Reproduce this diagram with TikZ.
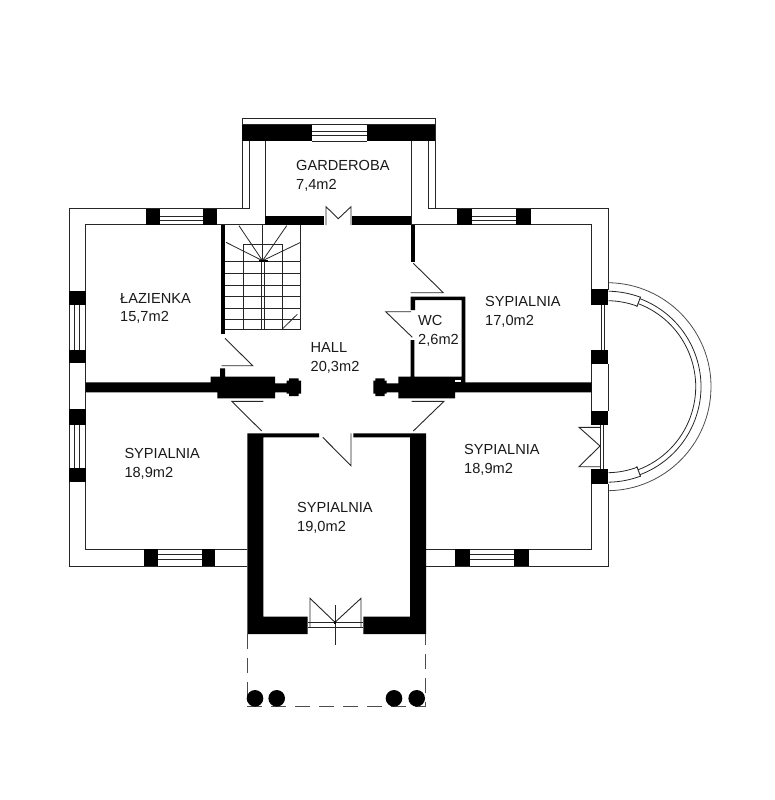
\documentclass[tikz,border=0pt]{standalone}
\usepackage{fontspec}
\setmainfont{Liberation Sans}
\tikzset{
    wall/.style={line width=1pt,draw=black!85},
    thinline/.style={line width=0.8pt,draw=black!85},
    dooropen/.style={line width=0.9pt,draw=black!85},
    blackwall/.style={fill=black},
    dashline/.style={line width=1.1pt,draw=black!70,dash pattern=on 15pt off 9pt},
    room/.style={align=left,anchor=west,inner sep=0pt,font=\fontsize{14.6}{18.8}\selectfont,text=black!90},
}
\begin{document}
\begin{tikzpicture}[x=1pt,y=-1pt]
\useasboundingbox (0,0) rectangle (774,800);
% outer and inner wall lines
\draw[wall] (247.3,566.3)--(69,566.3)--(69,208.6)--(249,208.6)--(249,141);
\draw[wall] (242.3,208.6)--(242.3,118)--(435.3,118)--(435.3,208.6);
\draw[wall] (428.3,141)--(428.3,208.6)--(608.3,208.6)--(608.3,290);
\draw[wall] (608.3,364)--(608.3,411);
\draw[wall] (608.3,484)--(608.3,566.3)--(426,566.3);
\draw[wall] (247.3,549.2)--(85.7,549.2)--(85.7,224.7)--(265,224.7)--(265,141);
\draw[wall] (411.3,141)--(411.3,224.7)--(591.7,224.7)--(591.7,290);
\draw[wall] (591.7,364)--(591.7,411);
\draw[wall] (591.7,484)--(591.7,549.2)--(426,549.2);
% windows
\foreach \i in {216.2,220.7} {
\draw[thinline] (160,\i)--(203,\i);
\draw[thinline] (472,\i)--(516,\i);
}
\foreach \i in {131.7,135.2} {
\draw[thinline] (312,\i)--(367,\i);
}
\foreach \i in {554.5,559.5} {
\draw[thinline] (158,\i)--(202,\i);
\draw[thinline] (470,\i)--(514,\i);
}
\foreach \i in {74.3,79.3} {
\draw[thinline] (\i,305)--(\i,350);
\draw[thinline] (\i,425)--(\i,468);
}
\foreach \i in {601,604} {
\draw[thinline] (\i,304)--(\i,350);
}
\foreach \i in {600,603.5} {
\draw[thinline] (\i,425)--(\i,469);
}
% piers
\foreach \xa/\ya/\xb/\yb in {145.7/208.6/160/224.7,203/208.6/217/224.7,457.3/208.6/472.3/224.7,516/208.6/531/224.7,
    144/549.2/158.3/566.3,201.7/549.2/215.3/566.3,455/549.2/470/566.3,514/549.2/529.3/566.3,
    69/290.7/85.7/305,69/350/85.7/363,69/409.3/85.7/425,69/468.3/85.7/482.3,
    591.3/289.3/608.3/304.7,591.3/350/608.3/364,591.3/410.7/608.3/425,591.3/469/608.3/484} {
\fill[blackwall] (\xa,\ya) rectangle (\xb,\yb);
}
% black walls
\draw[wall,fill=white] (242.3,118) rectangle (435.3,124.7);
\fill[blackwall] (242.3,124.7) rectangle (312,141.3);
\fill[blackwall] (367,124.7) rectangle (435.3,141.3);
\draw[thinline] (312,124.7)--(367,124.7);
\draw[thinline] (312,141.3)--(367,141.3);
\fill[blackwall] (265,216) rectangle (324,225);
\fill[blackwall] (352.3,216) rectangle (411.3,225);
\fill[blackwall] (220.7,225) rectangle (225.2,334);
\fill[blackwall] (410.7,225) rectangle (415,261.7);
% hall wall with columns
\fill[blackwall] (85.7,382.3)--(210.7,382.3)--(210.7,376.7)--(220,376.7)--(220,368.3)--(225,368.3)--(225,376.7)--(275,376.7)--(275,383.3)--(286.7,383.3)--(286.7,380.5)--(289,380.5)--(289,378.3)--(298.7,378.3)--(298.7,380.5)--(301,380.5)--(301,393.7)--(298.7,393.7)--(298.7,396)--(289,396)--(289,393.7)--(286.7,393.7)--(286.7,392.3)--(275,392.3)--(275,398.3)--(217.3,398.3)--(217.3,392.3)--(85.7,392.3)--cycle;
\fill[blackwall] (591.7,382.3)--(465.3,382.3)--(465.3,296.7)--(410.7,296.7)--(410.7,310)--(415,310)--(415,300)--(461.7,300)--(461.7,376.7)--(414.3,376.7)--(414.3,340)--(410.7,340)--(410.7,376.7)--(398.3,376.7)--(398.3,383.3)--(386.7,383.3)--(386.7,380.5)--(384.7,380.5)--(384.7,378.3)--(375.3,378.3)--(375.3,380.5)--(373.3,380.5)--(373.3,393.7)--(375.3,393.7)--(375.3,396)--(384.7,396)--(384.7,393.7)--(386.7,393.7)--(386.7,392.3)--(398.3,392.3)--(398.3,398.3)--(455,398.3)--(455,392.3)--(591.7,392.3)--cycle;
\fill[white] (455,380) rectangle (461,382.3);
% thick walls of the south room
\fill[blackwall] (247.3,433.3)--(319,433.3)--(319,437.3)--(263.3,437.3)--(263.3,616.7)--(307.7,616.7)--(307.7,634)--(247.3,634)--cycle;
\fill[blackwall] (426,433.3)--(353.3,433.3)--(353.3,437.3)--(410,437.3)--(410,616.7)--(363.3,616.7)--(363.3,634)--(426,634)--cycle;
% doors
\draw[dooropen] (326,225)--(326,206.7)--(338.3,218.7)--(351,206.7)--(351,225);
\draw[dooropen] (413.3,263.3)--(443.3,292.7)--(410.7,292.7);
\draw[dooropen] (411,311.7)--(385.7,311.7)--(412.3,337.3);
\draw[dooropen] (225,338.3)--(252.7,365.7)--(221.7,365.7);
\draw[dooropen] (263.3,401.3)--(231.7,401.3)--(261.7,431);
\draw[dooropen] (411.7,401.3)--(444,401.3)--(413.3,431);
\draw[dooropen] (322.7,437.3)--(351,465.7)--(351,433.3);
\draw[dooropen] (600,427.3)--(579,427.3)--(600,446)--(579,466.7)--(600,466.7);
% south door
\draw[thinline] (307.7,622.3)--(363.3,622.3);
\draw[thinline] (307.7,627.7)--(363.3,627.7);
\draw[dooropen] (310,627.7)--(310,598.3)--(335,622.3)--(361,598.3)--(361,627.7);
\draw[dooropen] (335,605)--(335,645);
\fill[blackwall] (333.7,621) rectangle (336.3,623.6);
% stairs
\foreach \i in {261.7,273.3,285,296.7,308.3,319.3} {
\draw[thinline] (225.3,\i)--(300.7,\i);
}
\foreach \i in {243.3,282.3} {
\draw[thinline] (\i,244)--(\i,329);
}
\draw[thinline] (243.3,244)--(282.3,244);
\draw[thinline] (300.7,225)--(300.7,329)--(225.3,329);
\draw[thinline] (261,261)--(261,329);
\draw[thinline] (264,261)--(264,329);
\draw[thinline] (262.5,225)--(262.5,261);
\foreach \a/\b in {226/242.3,239/225.7,286.7/225.7,300.7/242.3} {
\draw[thinline] (262.5,260.7)--(\a,\b);
}
\fill[blackwall] (258.5,260) rectangle (268,262);
\draw[thinline] (282.3,329)--(297.3,314.3);
% bay on the east side
\foreach \r in {88.7,94} {
\draw[thinline] ([shift={(607,386.7)}]-69.5:\r) arc[start angle=-69.5,end angle=69.5,radius=\r];
}
\draw[thinline,draw=black!70] ([shift={(607,386.7)}]-89:104) arc[start angle=-89,end angle=89,radius=104];
\foreach \s in {-1,1} {
\draw[thinline] ([shift={(607,386.7)}]\s*89:86) arc[start angle=\s*89,end angle=\s*69.5,radius=86];
\draw[thinline] ([shift={(607,386.7)}]\s*89:95.5) arc[start angle=\s*89,end angle=\s*69.5,radius=95.5];
\draw[dooropen] ([shift={(607,386.7)}]\s*69.5:85) -- ([shift={(607,386.7)}]\s*69.5:96);
}
% terrace
\draw[dashline] (247.7,634)--(247.7,706.7)--(425.7,706.7)--(425.7,634);
\foreach \i in {255,276.7,394,416.7} {
\fill[blackwall] (\i,698.3) circle (8.3);
}
% labels
\node[room] (garderoba) at (296,175.5) {GARDEROBA\\7,4m2};
\node[room] (lazienka) at (120,308.5) {ŁAZIENKA\\15,7m2};
\node[room] (sypialniaeast) at (485,311.5) {SYPIALNIA\\17,0m2};
\node[room] (wc) at (418,331) {WC\\2,6m2};
\node[room] (hall) at (310.5,358.2) {HALL\\20,3m2};
\node[room] (sypialniawest) at (124.3,463.5) {SYPIALNIA\\18,9m2};
\node[room] (sypialniasouth) at (297,517.5) {SYPIALNIA\\19,0m2};
\node[room] (sypialniasoutheast) at (464,459.5) {SYPIALNIA\\18,9m2};
\end{tikzpicture}
\end{document}
